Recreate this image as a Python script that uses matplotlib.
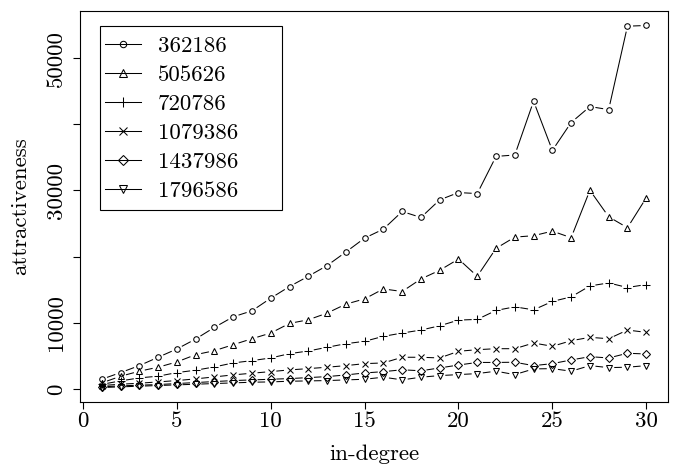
import numpy as np
import matplotlib
matplotlib.use('Agg')
import matplotlib.pyplot as plt
from matplotlib.patches import Rectangle

plt.rcParams['font.family'] = ['cmr10', 'DejaVu Serif']
plt.rcParams['axes.formatter.use_mathtext'] = True
plt.rcParams['mathtext.fontset'] = 'cm'

# ---------------- data ----------------
in_degree = list(range(1, 31))
series_labels = ['362186', '505626', '720786', '1079386', '1437986', '1796586']

s362186 = [1450, 2455, 3509, 4774, 6024, 7530, 9292, 10889, 11792, 13705,
           15467, 17018, 18630, 20678, 22786, 24142, 26807, 25904, 28569, 29669,
           29518, 35136, 35346, 43479, 36039, 40256, 42666, 42214, 54819, 54925]
s505626 = [900, 1900, 2666, 3268, 4066, 5166, 5768, 6672, 7575, 8434,
           9895, 10437, 11446, 12801, 13599, 15105, 14714, 16611, 17922, 19623,
           17018, 21235, 22937, 23148, 23840, 22846, 30015, 26009, 24352, 28870]
s720786 = [680, 1200, 1657, 1913, 2455, 2816, 3313, 3916, 4262, 4669,
           5316, 5723, 6280, 6822, 7184, 7937, 8434, 8886, 9533, 10392,
           10497, 11852, 12395, 11943, 13208, 13901, 15557, 16009, 15316, 15768]
s1079386 = [500, 700, 850, 1050, 1250, 1506, 1807, 2108, 2364, 2605,
            2861, 3057, 3268, 3509, 3810, 3916, 4774, 4774, 4669, 5678,
            5919, 6069, 6069, 6928, 6431, 7274, 7786, 7575, 8886, 8539]
s1437986 = [300, 450, 550, 650, 800, 950, 1100, 1250, 1350, 1450,
            1550, 1700, 1850, 2100, 2400, 2600, 2880, 2730, 3163, 3600,
            3990, 3990, 4021, 3509, 3810, 4367, 4864, 4669, 5377, 5271]
s1796586 = [200, 300, 400, 500, 600, 700, 800, 900, 1000, 1050,
            1150, 1200, 1250, 1350, 1450, 1762, 1355, 1762, 2003, 2154,
            2304, 2666, 2154, 3012, 3057, 2666, 3509, 3208, 3268, 3509]

series = [s362186, s505626, s720786, s1079386, s1437986, s1796586]
markers = ['o', '^', '+', 'x', 'D', 'v']
msizes = [4.0, 5.0, 6.0, 4.6, 4.0, 5.0]

xticks = [0, 5, 10, 15, 20, 25, 30]
yticks = [0, 10000, 20000, 30000, 40000, 50000]
ytick_labels = ['0', '10000', '', '30000', '', '50000']

# ---------------- figure ----------------
W, H = 678, 468
fig = plt.figure(figsize=(W / 100, H / 100), dpi=100)
L, R, T, B = 80, 668, 11, 402
ax = fig.add_axes([L / W, 1 - B / H, (R - L) / W, (B - T) / H])

allx = np.array(in_degree, dtype=float)
ally = np.concatenate([np.array(s, dtype=float) for s in series])
xr = allx.max() - allx.min()
yr = ally.max() - ally.min()
ax.set_xlim(allx.min() - 0.04 * xr, allx.max() + 0.04 * xr)
ax.set_ylim(ally.min() - 0.04 * yr, ally.max() + 0.04 * yr)

GAP = 5.6  # pixels left free around each point (R type="b")
inv = ax.transData.inverted()
lw = 0.75

for vals, mk, ms, lab in zip(series, markers, msizes, series_labels):
    x = np.array(in_degree, dtype=float)
    y = np.array(vals, dtype=float)
    pts = ax.transData.transform(np.column_stack([x, y]))
    segx, segy = [], []
    for p0, p1 in zip(pts[:-1], pts[1:]):
        d = p1 - p0
        ln = np.hypot(d[0], d[1])
        if ln <= 2 * GAP:
            continue
        u = d / ln
        a = inv.transform(p0 + u * GAP)
        b = inv.transform(p1 - u * GAP)
        segx += [a[0], b[0], np.nan]
        segy += [a[1], b[1], np.nan]
    ax.plot(segx, segy, color='black', lw=lw, solid_capstyle='butt')
    ax.plot(x, y, linestyle='none', marker=mk, markersize=ms,
            markerfacecolor='none', markeredgecolor='black', markeredgewidth=0.75)
    # legend proxy
    ax.plot([], [], color='black', lw=lw, marker=mk, markersize=ms + 0.6,
            markerfacecolor='none', markeredgecolor='black', markeredgewidth=0.75,
            label=lab)

FS = 16.5
ax.set_xticks(xticks)
ax.set_xticklabels([str(t) for t in xticks])
ax.set_yticks(yticks)
ax.set_yticklabels(ytick_labels)
ax.tick_params(axis='both', direction='out', length=6.7 * 0.72, width=0.8,
               labelsize=FS, color='black')
ax.tick_params(axis='x', pad=2)
ax.tick_params(axis='y', pad=5)
for t in ax.get_yticklabels():
    t.set_rotation(90)
    t.set_va('center')
    t.set_ha('right')
    t.set_rotation_mode('default')

for sp in ax.spines.values():
    sp.set_color('black')
    sp.set_linewidth(0.8)

ax.set_xlabel('in-degree', fontsize=FS, labelpad=10)
ax.set_ylabel('attractiveness', fontsize=FS, labelpad=12)

# legend
leg = ax.legend(loc='upper left', bbox_to_anchor=((105 - L) / (R - L), (B - 36) / (B - T)),
                frameon=False, fontsize=FS, handlelength=1.55, handletextpad=0.75,
                labelspacing=0.39, borderpad=0, borderaxespad=0)
ax.add_patch(Rectangle(((100 - L) / (R - L), (B - 210) / (B - T)),
                       (282 - 100) / (R - L), (210 - 26) / (B - T),
                       transform=ax.transAxes, fill=False, edgecolor='black',
                       linewidth=0.8, zorder=5))

fig.savefig('out.png', dpi=100)
